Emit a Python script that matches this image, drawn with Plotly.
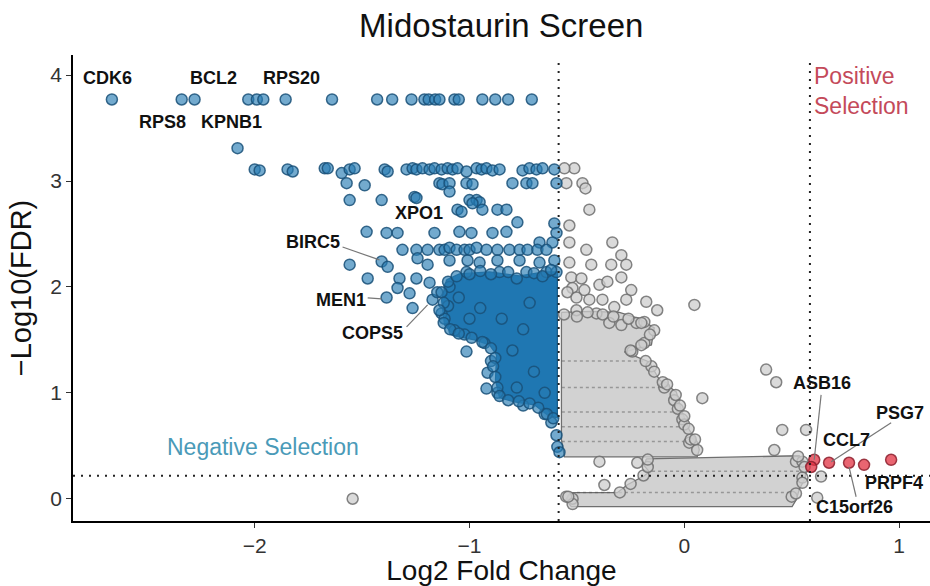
import plotly.graph_objects as go

# ---------------- data ----------------
# significant negative-selection genes (blue)
neg_x = [-2.665, -2.34, -2.28, -2.03, -1.99, -1.96, -1.856, -1.64, -1.43, -1.36, -1.27, -1.21, -1.19, -1.16, -1.14,
         -1.07, -1.05, -0.94, -0.88, -0.82, -0.71,
         -2.08,
         -2.0, -1.977, -1.847, -1.823, -1.674, -1.66, -1.595, -1.558, -1.535, -1.395, -1.381, -1.293, -1.265, -1.247,
         -1.219, -1.186, -1.163, -1.13, -1.102, -1.079, -1.056, -1.014, -0.967, -0.944, -0.921, -0.893, -0.86,
         -0.753, -0.721, -0.688, -0.66, -0.605,
         -1.572, -1.488, -1.14, -1.126, -1.093, -1.014, -0.986, -0.8, -0.735, -0.707, -0.595,
         -1.558, -1.409, -1.256, -1.247, -1.093, -1.0, -0.967, -0.953,
         -1.056, -1.037, -0.94, -0.87, -0.828, -0.986, -0.777, -0.605,
         -1.479, -1.386, -1.335, -1.163, -1.047, -0.991, -0.893, -0.828, -0.595,
         -0.674, -0.614,
         -1.312, -1.247, -1.195, -1.14, -1.116, -1.093, -1.06, -1.023, -1.0, -0.967, -0.921, -0.87, -0.814, -0.767,
         -0.73, -0.684, -0.642,
         -1.409, -1.381, -1.558, -1.242, -1.195, -1.093, -1.009, -0.953, -0.87, -0.767, -0.674, -0.605,
         -1.474, -1.326, -1.247, -1.186, -1.014, -0.86, -0.735, -0.642, -0.595,
         -1.335, -1.279, -1.386, -1.265, -1.172, -1.093, -1.15, -1.13,
         -1.07, -1.023, -0.93, -1.014, -0.916, -0.921,
         -0.619, -0.595, -0.591, -0.581,
         -1.116, -1.10, -0.90, -0.87, -0.75, -0.65,
         -1.10, -1.06, -1.0, -0.95, -0.9, -0.82, -0.78, -0.70, -0.66, -0.62,
         -1.13, -1.12, -1.14, -1.12, -1.09, -1.05, -0.99, -0.94, -0.90, -0.88, -0.89, -0.88, -0.87, -0.86,
         -0.82, -0.77, -0.72, -0.68, -0.64, -0.61,
         -1.05, -0.95, -0.85, -0.75, -0.80, -0.70, -0.78, -0.65, -1.0, -0.72]
neg_y = [3.77] * 21 + [3.31] + \
        [3.11, 3.10, 3.11, 3.09, 3.12, 3.12, 3.075, 3.11, 3.12, 3.11, 3.09, 3.11, 3.12, 3.11,
         3.12, 3.11, 3.12, 3.11, 3.12, 3.11, 3.12, 3.09, 3.12, 3.11, 3.12, 3.10, 3.11,
         3.10, 3.12, 3.11, 3.12, 3.11,
         2.98, 2.96, 2.98, 2.97, 2.98, 2.98, 2.97, 2.98, 2.98, 2.98, 2.98,
         2.82, 2.82, 2.85, 2.84, 2.90, 2.82, 2.82, 2.80,
         2.73, 2.71, 2.73, 2.73, 2.73, 2.79, 2.61, 2.60,
         2.52, 2.51, 2.51, 2.51, 2.52, 2.51, 2.51, 2.52, 2.51,
         2.42, 2.42,
         2.35, 2.35, 2.35, 2.35, 2.35, 2.37, 2.35, 2.35, 2.35, 2.37, 2.35, 2.35, 2.35, 2.35,
         2.35, 2.35, 2.35,
         2.24, 2.19, 2.21, 2.27, 2.21, 2.25, 2.25, 2.23, 2.25, 2.25, 2.23, 2.25,
         2.08, 2.08, 2.08, 2.04, 2.14, 2.14, 2.14, 2.14, 2.14,
         1.99, 1.94, 1.90, 1.80, 1.88, 2.00, 1.95, 1.75,
         1.59, 1.55, 1.47, 1.39, 1.19, 1.04,
         0.72, 0.60, 0.49, 0.44,
         1.70, 1.82, 1.30, 1.00, 0.88, 0.80,
         2.05, 2.10, 2.12, 2.15, 2.12, 2.14, 2.08, 2.13, 2.10, 2.16,
         1.95, 1.85, 1.78, 1.66, 1.60, 1.56, 1.52, 1.48, 1.42, 1.33, 1.25, 1.15, 1.05, 0.97,
         0.93, 0.92, 0.90, 0.86, 0.80, 0.76,
         1.90, 1.80, 1.70, 1.60, 1.40, 1.20, 1.05, 1.00, 1.70, 1.85]

# non-significant genes (grey), the sparse ones
ns_x = [-0.512, -0.558, -0.549, -0.474, -0.46, -0.442, -0.535, -0.535, -0.456, -0.335, -0.293, -0.535, -0.433,
        -0.34, -0.27, -0.526, -0.479, -0.395, -0.358, -0.293, -0.247, -0.521, -0.465, -0.544, -0.502, -0.442,
        -0.381, -0.326, -0.27, -0.177, -0.126, 0.047, -0.502, -0.409, -0.349, -0.293, -0.223, -0.186, -0.14,
        -0.186, -0.242, -0.153, -0.093, -0.047, -0.009, 0.023, 0.084, 0.381, 0.428, 0.456, 0.567, 0.419,
        -0.395, -0.219, -0.372, 0.637, 0.619, -1.544,
        0.06, 0.03, 0.0, -0.03, -0.10, 0.52, 0.55, 0.55, 0.50, -0.52, -0.55,
        -0.56, -0.5, -0.45, -0.38, -0.33, -0.26, -0.2, -0.16, -0.2, -0.25, -0.18, -0.14, -0.08, -0.04, -0.02,
        0.0, 0.02, 0.05, 0.53, 0.56, 0.55, 0.52, -0.52, -0.54, -0.30, -0.25, -0.19, -0.17, -0.17]
ns_y = [3.12, 3.12, 2.98, 2.98, 2.93, 2.73, 2.58, 2.42, 2.35, 2.42, 2.30, 2.23, 2.21,
        2.21, 2.21, 2.09, 2.08, 2.02, 2.05, 2.09, 1.97, 1.99, 1.97, 1.95, 1.90, 1.88,
        1.88, 1.81, 1.88, 1.86, 1.78, 1.83, 1.78, 1.75, 1.66, 1.64, 1.66, 1.67, 1.59,
        1.47, 1.39, 1.25, 1.05, 0.93, 0.75, 0.53, 0.95, 1.22, 1.10, 0.65, 0.65, 0.46,
        0.35, 0.34, 0.13, 0.21, 0.01, 0.00,
        0.46, 0.56, 0.70, 0.85, 1.10, 0.35, 0.35, 0.20, 0.02, 0.00, 0.02,
        1.74, 1.72, 1.76, 1.74, 1.72, 1.70, 1.66, 1.55, 1.45, 1.40, 1.30, 1.20, 1.08, 0.98, 0.88,
        0.78, 0.66, 0.56, 0.40, 0.30, 0.15, 0.05, -0.05, 0.02, 0.06, 0.14, 0.22, 0.30, 0.37]

# significant positive-selection genes (red)
pos_x = [0.605, 0.591, 0.674, 0.767, 0.837, 0.963]
pos_y = [0.368, 0.30, 0.34, 0.34, 0.32, 0.368]

# outlines of the regions where overlapping points merge into solid areas
blue_dense_x = [-1.107, -1.047, -0.907, -0.767, -0.651, -0.591, -0.591, -0.637, -0.698, -0.791, -0.86, -0.879,
                -0.874, -0.907, -0.977, -1.07, -1.116, -1.13]
blue_dense_y = [2.066, 2.123, 2.142, 2.104, 2.142, 2.142, 0.764, 0.792, 0.887, 0.915, 0.953, 1.123,
                1.358, 1.453, 1.5, 1.538, 1.642, 1.877]
grey_upper_x = [-0.572, -0.442, -0.302, -0.209, -0.14, -0.153, -0.279, -0.163, -0.116, -0.037, -0.014, 0.023,
                0.06, 0.07, 0.06, -0.558, -0.572]
grey_upper_y = [1.76, 1.77, 1.76, 1.70, 1.613, 1.453, 1.387, 1.292, 1.123, 1.009, 0.840, 0.651,
                0.538, 0.462, 0.396, 0.396, 0.557]
grey_lower_x = [-0.177, 0.535, 0.572, 0.563, 0.535, 0.521, 0.502, -0.526, -0.553, -0.526, -0.312, -0.265,
                -0.186, -0.163, -0.186]
grey_lower_y = [0.377, 0.406, 0.321, 0.198, 0.085, -0.009, -0.075, -0.075, -0.009, 0.057, 0.057, 0.132,
                0.217, 0.255, 0.311]
# FDR levels that show as dark streaks inside the grey area (y, x from, x to)
streak_y = [1.30, 1.05, 0.82, 0.68, 0.54, 0.26, 0.06]
streak_x0 = [-0.57, -0.57, -0.57, -0.57, -0.57, -0.15, -0.50]
streak_x1 = [-0.18, -0.10, -0.02, 0.01, 0.05, 0.55, 0.50]

# thresholds
lfc_cut = 0.585
fdr_cut = 0.217

# gene labels
label_text = ["CDK6", "BCL2", "RPS20", "RPS8", "KPNB1", "XPO1", "BIRC5", "MEN1", "COPS5",
              "ASB16", "PSG7", "CCL7", "PRPF4", "C15orf26"]
label_x = [-2.684, -2.19, -1.828, -2.428, -2.107, -1.233, -1.73, -1.60, -1.451,
           0.642, 1.125, 0.753, 1.122, 0.791]
label_y = [3.97, 3.97, 3.97, 3.556, 3.556, 2.70, 2.42, 1.877, 1.566,
           1.094, 0.811, 0.557, 0.151, -0.075]
label_anchor = ["center"] * 10 + ["right", "center", "right", "center"]
# connector segments (x0, y0, x1, y1)
seg_x0 = [-1.591, -1.474, -1.293, 0.637, 0.963, 0.80]
seg_y0 = [2.377, 1.896, 1.623, 0.981, 0.717, 0.019]
seg_x1 = [-1.419, -1.409, -1.195, 0.605, 0.684, 0.767]
seg_y1 = [2.255, 1.887, 1.83, 0.368, 0.349, 0.302]

x_ticks = [-2, -1, 0, 1]
y_ticks = [0, 1, 2, 3, 4]

FONT = "Liberation Sans, Arial, Helvetica, sans-serif"

fig = go.Figure()


def closed(a):
    return list(a) + [a[0]]


for px_, py_ in ((grey_upper_x, grey_upper_y), (grey_lower_x, grey_lower_y)):
    fig.add_trace(go.Scatter(x=closed(px_), y=closed(py_), mode="lines", fill="toself",
                             fillcolor="#d2d2d2", line=dict(color="#6f6f6f", width=1.3), hoverinfo="skip",
                             showlegend=False))
for sy, a, b in zip(streak_y, streak_x0, streak_x1):
    fig.add_trace(go.Scatter(x=[a, b], y=[sy, sy], mode="lines", hoverinfo="skip", showlegend=False,
                             line=dict(color="rgba(80,80,80,0.45)", width=1.5, dash="3px,3px")))
fig.add_trace(go.Scatter(x=closed(blue_dense_x), y=closed(blue_dense_y), mode="lines", fill="toself",
                         fillcolor="#1f77b2", line=dict(color="#195f8e", width=1.3), hoverinfo="skip",
                         showlegend=False))

fig.add_trace(go.Scatter(x=ns_x, y=ns_y, mode="markers", showlegend=False,
                         marker=dict(size=11, color="rgba(205,205,205,0.75)",
                                     line=dict(color="rgba(110,110,110,0.85)", width=1.5))))
fig.add_trace(go.Scatter(x=neg_x, y=neg_y, mode="markers", showlegend=False,
                         marker=dict(size=11, color="rgba(40,125,180,0.65)",
                                     line=dict(color="rgba(25,80,120,0.85)", width=1.5))))
fig.add_trace(go.Scatter(x=pos_x, y=pos_y, mode="markers", showlegend=False,
                         marker=dict(size=11, color="rgba(225,50,65,0.75)",
                                     line=dict(color="rgba(140,30,45,0.85)", width=1.5))))

shapes = []
for xv in (-lfc_cut, lfc_cut):
    shapes.append(dict(type="line", xref="x", yref="paper", x0=xv, x1=xv, y0=0, y1=0.99,
                       line=dict(color="#222222", width=2, dash="2px,6px"), layer="above"))
shapes.append(dict(type="line", xref="paper", yref="y", x0=0, x1=1, y0=fdr_cut, y1=fdr_cut,
                   line=dict(color="#222222", width=2, dash="2px,6px"), layer="above"))
for a, b, c, d in zip(seg_x0, seg_y0, seg_x1, seg_y1):
    shapes.append(dict(type="line", xref="x", yref="y", x0=a, y0=b, x1=c, y1=d,
                       line=dict(color="#777777", width=1.2), layer="above"))

annotations = []
for t, xv, yv, anc in zip(label_text, label_x, label_y, label_anchor):
    annotations.append(dict(x=xv, y=yv, text="<b>%s</b>" % t, showarrow=False, xanchor=anc,
                            font=dict(family=FONT, size=18, color="#111111")))
annotations.append(dict(x=-1.963, y=0.49, text="Negative Selection", showarrow=False,
                        font=dict(family=FONT, size=23, color="#4a9ab8")))
annotations.append(dict(x=0.595, y=3.85, text="Positive<br>Selection", showarrow=False, xanchor="left",
                        align="left", font=dict(family=FONT, size=23, color="#c44a5a")))

fig.update_layout(
    width=930, height=586,
    margin=dict(l=73, r=0, t=55, b=65, autoexpand=False),
    paper_bgcolor="white", plot_bgcolor="white",
    title=dict(text="Midostaurin Screen", x=0.539, xref="container", xanchor="center",
               y=0.957, yref="container", yanchor="middle", automargin=False,
               font=dict(family=FONT, size=33, color="#111111")),
    shapes=shapes, annotations=annotations,
    xaxis=dict(range=[-2.846, 1.144], tickvals=x_ticks, showline=True, linecolor="black", linewidth=1.5,
               ticks="outside", ticklen=5, tickcolor="#333333", tickwidth=1.2, automargin=False,
               tickfont=dict(family=FONT, size=21, color="#333333"),
               showgrid=False, zeroline=False,
               title=dict(text="Log2 Fold Change", standoff=2,
                          font=dict(family=FONT, size=28, color="#111111"))),
    yaxis=dict(range=[-0.21, 4.19], tickvals=y_ticks, showline=True, linecolor="black", linewidth=1.5,
               ticks="outside", ticklen=5, tickcolor="#333333", tickwidth=1.2, automargin=False,
               tickfont=dict(family=FONT, size=21, color="#333333"),
               showgrid=False, zeroline=False,
               title=dict(text="\u2212Log10(FDR)", standoff=10,
                          font=dict(family=FONT, size=29, color="#111111"))),
)

fig.write_html("out.html", config={"displayModeBar": False},
               post_script="document.body.style.margin='0';document.body.style.overflow='hidden';")
